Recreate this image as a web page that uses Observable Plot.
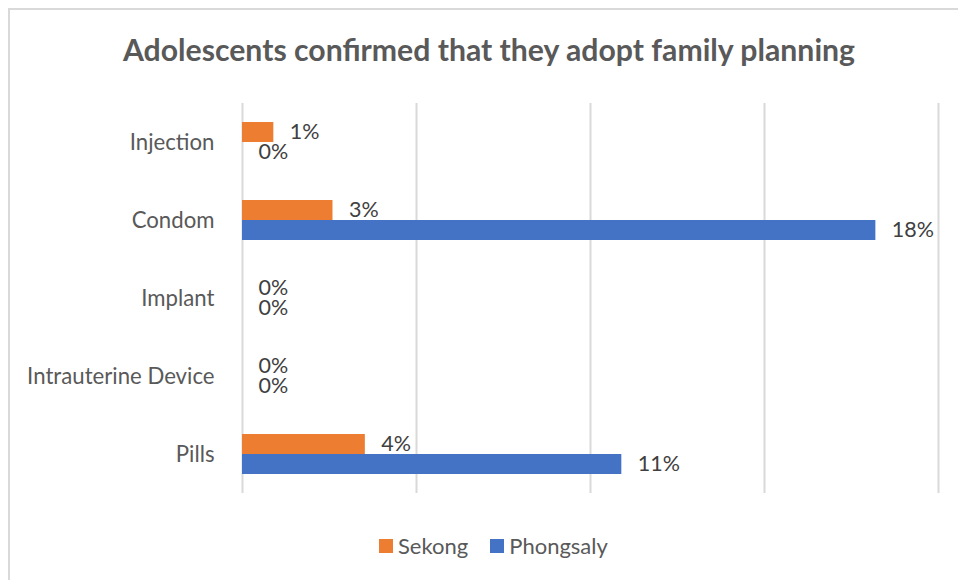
<!DOCTYPE html>
<html>
<head>
<meta charset="utf-8">
<script src="https://cdn.jsdelivr.net/npm/d3@7"></script>
<script src="https://cdn.jsdelivr.net/npm/@observablehq/plot@0.6"></script>
<style>
  html, body { margin: 0; padding: 0; background: #fff; }
  #wrap { position: relative; width: 958px; height: 580px; overflow: hidden; font-family: Lato, "Open Sans", sans-serif; }
  #frame { position: absolute; left: 8px; top: 8px; width: 1000px; height: 700px; border-top: 2px solid #d9d9d9; border-left: 2px solid #d9d9d9; box-sizing: border-box; }
  #title { position: absolute; top: 31px; left: 489px; transform: translateX(-50%); white-space: nowrap; font-weight: bold; font-size: 30.2px; color: #595959; }
  #chart { position: absolute; left: 0; top: 0; }
  #legend { position: absolute; top: 532px; left: 379px; display: flex; align-items: center; font-size: 22px; color: #595959; white-space: nowrap; }
  #legend .sw { display: inline-block; width: 14px; height: 14px; margin-right: 5px; }
  #legend .item { display: flex; align-items: center; margin-right: 22px; }
</style>
</head>
<body>
<div id="wrap">
  <div id="frame"></div>
  <div id="title">Adolescents confirmed that they adopt family planning</div>
  <div id="chart"></div>
  <div id="legend"></div>
</div>
<script>
const categories = ["Injection", "Condom", "Implant", "Intrauterine Device", "Pills"];
const seriesNames = ["Sekong", "Phongsaly"];
const seriesColors = ["#ED7D31", "#4472C4"];
const sekongValues = [0.009, 0.026, 0, 0, 0.0353];
const phongsalyValues = [0, 0.182, 0, 0, 0.109];
const xTicks = [0, 0.05, 0.10, 0.15, 0.20];

const rows = [];
categories.forEach((c, i) => {
  rows.push({category: c, series: "Sekong", value: sekongValues[i]});
  rows.push({category: c, series: "Phongsaly", value: phongsalyValues[i]});
});
const fmt = d3.format(".0%");

const chart = Plot.plot({
  width: 958,
  height: 520,
  marginTop: 102,
  marginBottom: 26,
  marginLeft: 242,
  marginRight: 20,
  style: {fontFamily: "Lato, 'Open Sans', sans-serif", fontSize: "22.2px", color: "#595959", background: "transparent", overflow: "visible"},
  x: {domain: [0, 0.2], axis: null},
  y: {domain: seriesNames, axis: null, paddingInner: 0, paddingOuter: 0.91},
  fy: {domain: categories, padding: 0, axis: "left", label: null, tickSize: 0, tickPadding: 28},
  color: {domain: seriesNames, range: seriesColors},
  marks: [
    Plot.ruleX(xTicks, {stroke: "#d9d9d9", strokeWidth: 2}),
    Plot.barX(rows, {x: "value", y: "series", fy: "category", fill: "series"}),
    Plot.text(rows, {x: "value", y: "series", fy: "category", text: d => fmt(d.value), dx: 16, textAnchor: "start", fill: "#404040", fontSize: 21.5})
  ]
});
document.getElementById("chart").appendChild(chart);

const legend = document.getElementById("legend");
seriesNames.forEach((s, i) => {
  const item = document.createElement("div");
  item.className = "item";
  const sw = document.createElement("span");
  sw.className = "sw";
  sw.style.background = seriesColors[i];
  item.appendChild(sw);
  item.appendChild(document.createTextNode(s));
  legend.appendChild(item);
});
</script>
</body>
</html>
